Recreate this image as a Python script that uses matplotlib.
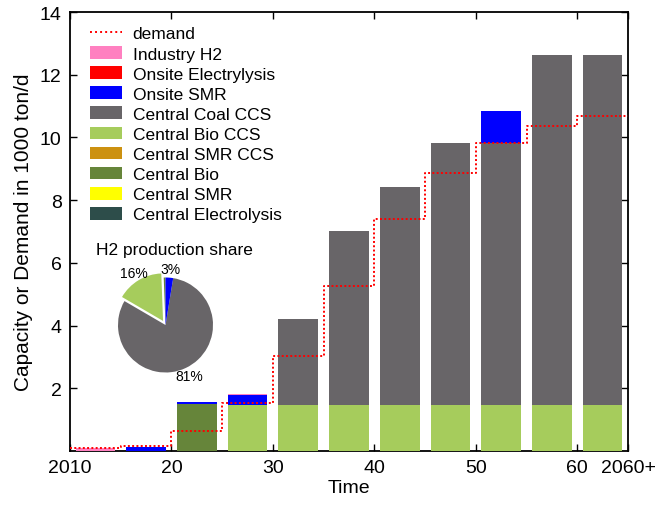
import numpy as np
import matplotlib
matplotlib.use("Agg")
from matplotlib import pyplot as plt
from matplotlib.patches import Patch
from matplotlib.lines import Line2D

plt.rcParams['font.family'] = ['Liberation Sans', 'DejaVu Sans']

# bar periods (5-year blocks) and capacities in 1000 ton/d
periods = [2012.5, 2017.5, 2022.5, 2027.5, 2032.5, 2037.5, 2042.5, 2047.5, 2052.5, 2057.5, 2062.5]
central_elec = [0, 0, 0, 0, 0, 0, 0, 0, 0, 0, 0]
central_smr = [0, 0, 0, 0, 0, 0, 0, 0, 0, 0, 0]
central_bio = [0, 0, 1.50, 0, 0, 0, 0, 0, 0, 0, 0]
central_smr_ccs = [0, 0, 0, 0, 0, 0, 0, 0, 0, 0, 0]
central_bio_ccs = [0, 0, 0, 1.47, 1.47, 1.47, 1.47, 1.47, 1.47, 1.47, 1.47]
central_coal_ccs = [0, 0, 0, 0, 2.74, 5.55, 6.94, 8.35, 8.35, 11.16, 11.16]
onsite_smr = [0, 0.13, 0.06, 0.31, 0, 0, 0, 0, 1.02, 0, 0]
onsite_elec = [0, 0, 0, 0, 0, 0, 0, 0, 0, 0, 0]
industry_h2 = [0.08, 0, 0, 0.03, 0, 0, 0, 0, 0, 0, 0]

# demand step line
demand_years = [2010, 2015, 2020, 2025, 2030, 2035, 2040, 2045, 2050, 2055, 2060, 2065]
demand = [0.09, 0.17, 0.64, 1.53, 3.04, 5.27, 7.40, 8.85, 9.81, 10.37, 10.69, 10.69]

# pie shares (%)
pie_names = ['Central Bio', 'Central Bio CCS', 'Central Coal CCS', 'Onsite SMR']
pie_share = [0.6, 16.0, 80.8, 2.6]
pie_labels = ['', '16%', '81%', '3%']

series = [
    ('Central Electrolysis', central_elec, '#2d4d4a'),
    ('Central SMR', central_smr, '#ffff00'),
    ('Central Bio', central_bio, '#66853a'),
    ('Central SMR CCS', central_smr_ccs, '#cc9110'),
    ('Central Bio CCS', central_bio_ccs, '#a6cc5c'),
    ('Central Coal CCS', central_coal_ccs, '#686568'),
    ('Onsite SMR', onsite_smr, '#0000ff'),
    ('Onsite Electrylysis', onsite_elec, '#ff0000'),
    ('Industry H2', industry_h2, '#ff80c0'),
]
colors = {name: c for name, _, c in series}

fig = plt.figure(figsize=(6.55, 5.06), dpi=100)
ax = fig.add_axes([70/655, 54/506, 558/655, 439/506])

bottom = np.zeros(len(periods))
for name, vals, c in series:
    ax.bar(periods, vals, width=3.9, bottom=bottom, color=c, linewidth=0, zorder=3)
    bottom += np.array(vals)

ax.step(demand_years, demand, where='post', color='red', lw=1.4,
        linestyle=(0, (1, 1.2)), zorder=4)

ax.set_xlim(2010, 2065)
ax.set_ylim(0, 14)
ax.set_xticks([2010, 2020, 2030, 2040, 2050, 2060, 2065])
ax.set_xticklabels(['2010', '20', '30', '40', '50', '60', '2060+'])
ax.set_yticks([2, 4, 6, 8, 10, 12, 14])
ax.tick_params(direction='in', top=True, right=True, length=5, width=1,
               labelsize=14, pad=6)
for s in ax.spines.values():
    s.set_linewidth(1.3)
ax.set_xlabel('Time', fontsize=14, labelpad=2)
ax.set_ylabel('Capacity or Demand in 1000 ton/d', fontsize=15, labelpad=5)

handles = [Line2D([], [], color='red', lw=1.4, linestyle=(0, (1, 1.6)))]
labels = ['demand']
for name, _, c in reversed(series):
    handles.append(Patch(facecolor=c, edgecolor='none'))
    labels.append(name)
ax.legend(handles, labels, loc='upper left', bbox_to_anchor=(0.036, 0.968),
          frameon=False, fontsize=12.5, handlelength=1.85, handleheight=0.75,
          handletextpad=0.6, labelspacing=0.27, borderpad=0, borderaxespad=0)

# inset pie
R = 47.5
a = 1.8
cx, cy = 165.5, 326
size = 2 * a * R
pax = fig.add_axes([(cx - size/2)/655, (506 - cy - size/2)/506, size/655, size/506])
wedges, texts = pax.pie(pie_share, labels=pie_labels, colors=[colors[n] for n in pie_names],
                        startangle=90, counterclock=True, explode=[0, 0.1, 0, 0],
                        labeldistance=1.18, wedgeprops=dict(linewidth=0),
                        textprops=dict(fontsize=10))
for t in texts:
    t.set_ha('center')
    t.set_va('center')
pax.set_xlim(-a, a)
pax.set_ylim(-a, a)
pax.set_aspect('equal')
pax.axis('off')
pax.text(0.18, 1.6, 'H2 production share', ha='center', va='center', fontsize=12.5)

fig.savefig('out.png', dpi=100)
